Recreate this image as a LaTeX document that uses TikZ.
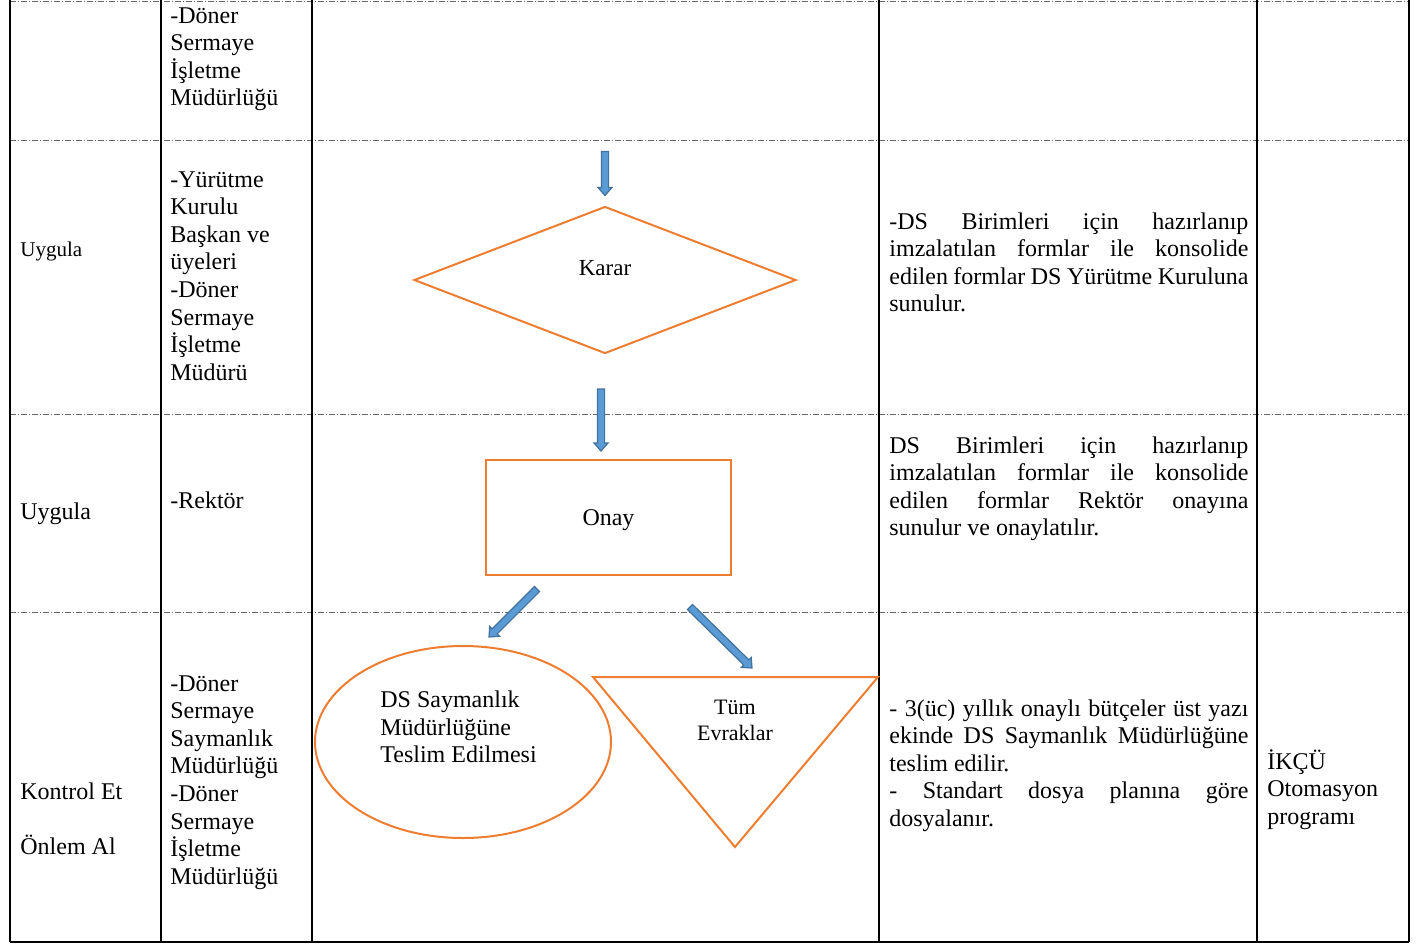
\documentclass[tikz,border=0pt]{standalone}
\usepackage{fontspec}
\setmainfont{Liberation Serif}
\usetikzlibrary{shapes.geometric,calc}
\definecolor{boxorange}{HTML}{ED7D31}
\definecolor{arrowfill}{HTML}{5B9BD5}
\definecolor{arrowline}{HTML}{41719C}
\hyphenpenalty=10000
\exhyphenpenalty=10000
\tikzset{
  cell/.style={anchor=base west, inner sep=0pt, text width=68pt, align=flush left, font=\fontsize{12}{13.8}\selectfont},
  celljust/.style={cell, text width=179.5pt, align=justify},
  smalltext/.style={inner sep=0pt, font=\fontsize{11}{13}\selectfont},
  flowshape/.style={draw=boxorange, line width=1pt, inner sep=0pt},
  rowline/.style={draw=black!60, line width=0.5pt, dash pattern=on 3pt off 1pt on 0.5pt off 1pt},
  colline/.style={draw=black, line width=1pt},
  blockarrow/.style={draw=arrowline, fill=arrowfill, line width=0.6pt,
    to path={let \p1=(\tikztostart), \p2=(\tikztotarget),
                 \n1={veclen(\x2-\x1,\y2-\y1)}, \n2={atan2(\y2-\y1,\x2-\x1)} in
      ($(\p1)+(\n2+90:1.8pt)$)
      -- ($(\p1)+(\n2:{\n1-4pt})+(\n2+90:1.8pt)$)
      -- ($(\p1)+(\n2:{\n1-4pt})+(\n2+90:3.5pt)$)
      -- (\p2)
      -- ($(\p1)+(\n2:{\n1-4pt})+(\n2-90:3.5pt)$)
      -- ($(\p1)+(\n2:{\n1-4pt})+(\n2-90:1.8pt)$)
      -- ($(\p1)+(\n2-90:1.8pt)$) -- cycle}}
}
\begin{document}
\begin{tikzpicture}[x=0.5pt,y=-0.5pt]
  \useasboundingbox (0,0) rectangle (1420,944);
  \foreach \y in {1,140,414,612}
    \draw[rowline] (10,\y) -- (1409,\y);
  \draw[colline] (10,942) -- (1409,942);
  \foreach \x in {10,161,312,879,1257,1409}
    \draw[colline] (\x,0) -- (\x,942);

  \node[cell] (isletme1) at (170,23) {-Döner\\Sermaye\\İşletme\\Müdürlüğü};

  \node[cell, font=\fontsize{10.5}{12}\selectfont] (uygula1) at (20,256) {Uygula};
  \node[cell] (kurul) at (170,187) {-Yürütme\\Kurulu\\Başkan ve\\üyeleri\\-Döner\\Sermaye\\İşletme\\Müdürü};
  \node[celljust] (aciklama1) at (889,229) {-DS Birimleri için hazırlanıp\linebreak imzalatılan formlar ile konsolide\linebreak edilen formlar DS Yürütme Kuruluna\linebreak sunulur.};

  \node[cell] (uygula2) at (20,519) {Uygula};
  \node[cell] (rektor) at (170,508) {-Rektör};
  \node[celljust] (aciklama2) at (889,453) {DS Birimleri için hazırlanıp\linebreak imzalatılan formlar ile konsolide\linebreak edilen formlar Rektör onayına\linebreak sunulur ve onaylatılır.};

  \node[cell] (kontrol) at (20,799) {Kontrol Et\\[13.8pt]Önlem Al};
  \node[cell] (saymanlik) at (170,691) {-Döner\\Sermaye\\Saymanlık\\Müdürlüğü\\-Döner\\Sermaye\\İşletme\\Müdürlüğü};
  \node[celljust] (aciklama3) at (889,716) {- 3(üc) yıllık onaylı bütçeler üst yazı\linebreak ekinde DS Saymanlık Müdürlüğüne\linebreak teslim edilir.\par - Standart dosya planına göre\linebreak dosyalanır.};
  \node[cell] (otomasyon) at (1267,769) {İKÇÜ\\Otomasyon\\programı};

  \node[flowshape, diamond, minimum width=191pt, minimum height=73.5pt,
        label={[smalltext, font=\fontsize{11.5}{13}\selectfont, yshift=6pt]center:Karar}] (karar) at (605,280) {};
  \node[flowshape, rectangle, minimum width=122.5pt, minimum height=57.5pt,
        label={[inner sep=0pt, font=\fontsize{12}{13.8}\selectfont, yshift=-1.5pt]center:Onay}] (onay) at (608.5,517.5) {};
  \node[flowshape, ellipse, minimum width=148pt, minimum height=96pt,
        label={[inner sep=0pt, align=left, font=\fontsize{12}{13.8}\selectfont, xshift=-2.25pt, yshift=7.5pt]center:DS Saymanlık\\Müdürlüğüne\\Teslim Edilmesi}] (teslim) at (463,742) {};
  \draw[flowshape] (593,677) coordinate (tri1) -- (878,677) coordinate (tri2) -- (735,847) coordinate (tri3) -- cycle;
  \node[smalltext, align=center] (evrak) at (735,720) {Tüm\\Evraklar};

  \draw[blockarrow] ($(karar.north)+(0,-54)$) to ($(karar.north)+(0,-10)$);
  \draw[blockarrow] ($(onay.north)+(-7.5,-70)$) to ($(onay.north)+(-7.5,-8)$);
  \draw[blockarrow] ($(onay.south)+(-71.5,13)$) to ($(teslim.north)+(26,-8)$);
  \draw[blockarrow] ($(onay.south)+(81.5,31)$) to ($(tri2)+(-126,-9)$);
\end{tikzpicture}
\end{document}
